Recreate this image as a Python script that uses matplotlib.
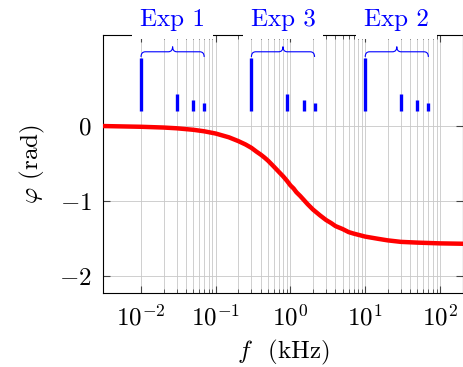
import matplotlib
matplotlib.use("Agg")
import matplotlib.pyplot as plt
import numpy as np
from matplotlib.path import Path
from matplotlib.patches import PathPatch
from matplotlib.ticker import FixedLocator, NullFormatter, LogFormatterMathtext

plt.rcParams['font.family'] = 'serif'
plt.rcParams['font.serif'] = ['cmr10']
plt.rcParams['mathtext.fontset'] = 'cm'
plt.rcParams['axes.formatter.use_mathtext'] = True

# phase response
freq = [0.003, 0.01, 0.02, 0.03, 0.05, 0.07, 0.1, 0.15, 0.2, 0.25, 0.3, 0.35,
        0.4, 0.45, 0.5, 0.6, 0.7, 0.8, 0.9, 1.0, 1.1, 1.2, 1.35, 1.5, 1.7,
        2.0, 2.5, 3.0, 3.5, 4.0, 5.0, 6.0, 7.0, 10.0, 15.0, 20.0, 30.0, 50.0,
        100.0, 200.0]
phase = [0.0, -0.01, -0.02, -0.03, -0.05, -0.07, -0.10, -0.15, -0.20, -0.245,
         -0.29, -0.34, -0.38, -0.42, -0.46, -0.54, -0.61, -0.67, -0.73, -0.79,
         -0.83, -0.88, -0.93, -0.98, -1.04, -1.11, -1.19, -1.25, -1.29, -1.33,
         -1.37, -1.41, -1.43, -1.47, -1.50, -1.52, -1.54, -1.55, -1.56, -1.565]

# spectral lines of the three experiments
exp_labels = ["Exp 1", "Exp 3", "Exp 2"]
exp1_f = [0.01, 0.03, 0.05, 0.07]
exp3_f = [0.3, 0.9, 1.5, 2.1]
exp2_f = [10, 30, 50, 70]
bar_top = [0.90, 0.43, 0.34, 0.30]
bar_base = 0.2

xticks = [1e-2, 1e-1, 1e0, 1e1, 1e2]
yticks = [-2, -1, 0]

xmin, xmax = 3.1e-3, 204
ymin, ymax = -2.22, 1.21

fig = plt.figure(figsize=(4.64, 3.67), dpi=100)
ax = fig.add_axes([0.222, 0.2016, 0.776, 0.703])
ax.set_xscale('log')
ax.set_xlim(xmin, xmax)
ax.set_ylim(ymin, ymax)

ax.xaxis.set_major_locator(FixedLocator(xticks))
ax.xaxis.set_major_formatter(LogFormatterMathtext())
minor = [m * 10.0**k for k in range(-2, 2) for m in range(2, 10)]
ax.xaxis.set_minor_locator(FixedLocator(minor))
ax.xaxis.set_minor_formatter(NullFormatter())
ax.set_yticks(yticks)

ax.grid(True, which='major', color='#c8c8c8', lw=0.6)
ax.grid(True, which='minor', axis='x', color='#c8c8c8', lw=0.6)
ax.set_axisbelow(True)

ax.tick_params(which='both', direction='in', top=True, right=True,
               color='#444444', labelsize=18)
ax.tick_params(which='major', length=5, width=0.8)
ax.tick_params(which='minor', length=3, width=0.6)
ax.tick_params(axis='x', pad=8)
ax.tick_params(axis='y', pad=8)
for s in ax.spines.values():
    s.set_linewidth(0.8)

ax.plot(freq, phase, color='red', lw=3.2, zorder=3)

groups = [exp1_f, exp3_f, exp2_f]
for lab, fs in zip(exp_labels, groups):
    ax.vlines(fs, bar_base, bar_top, colors='blue', lw=2.4, zorder=3)

    # curly brace above the group, in axes coordinates
    lo, hi = np.log10(xmin), np.log10(xmax)
    u1 = (np.log10(fs[0]) - lo) / (hi - lo)
    u2 = (np.log10(fs[-1]) - lo) / (hi - lo)
    um = 0.5 * (u1 + u2)
    yb, a, r = 0.935, 0.02, 0.012
    verts = [(u1, yb - a), (u1, yb), (u1 + r, yb),
             (um - r, yb), (um, yb), (um, yb + a),
             (um, yb), (um + r, yb),
             (u2 - r, yb), (u2, yb), (u2, yb - a)]
    codes = [Path.MOVETO, Path.CURVE3, Path.CURVE3,
             Path.LINETO, Path.CURVE3, Path.CURVE3,
             Path.CURVE3, Path.CURVE3,
             Path.LINETO, Path.CURVE3, Path.CURVE3]
    ax.add_patch(PathPatch(Path(verts, codes), fc='none', ec='blue', lw=0.8,
                           transform=ax.transAxes, clip_on=False, zorder=3))
    ax.text(um, 1.06, lab, transform=ax.transAxes, ha='center', va='center',
            color='blue', fontsize=18, zorder=5, clip_on=False,
            bbox=dict(boxstyle='square,pad=0.32', fc='white', ec='none'))

ax.set_xlabel(r"$f\ \ \,$(kHz)", fontsize=18, labelpad=6)
ax.set_ylabel(r"$\varphi$ (rad)", fontsize=18, labelpad=9)

fig.savefig("out.png", dpi=100)
